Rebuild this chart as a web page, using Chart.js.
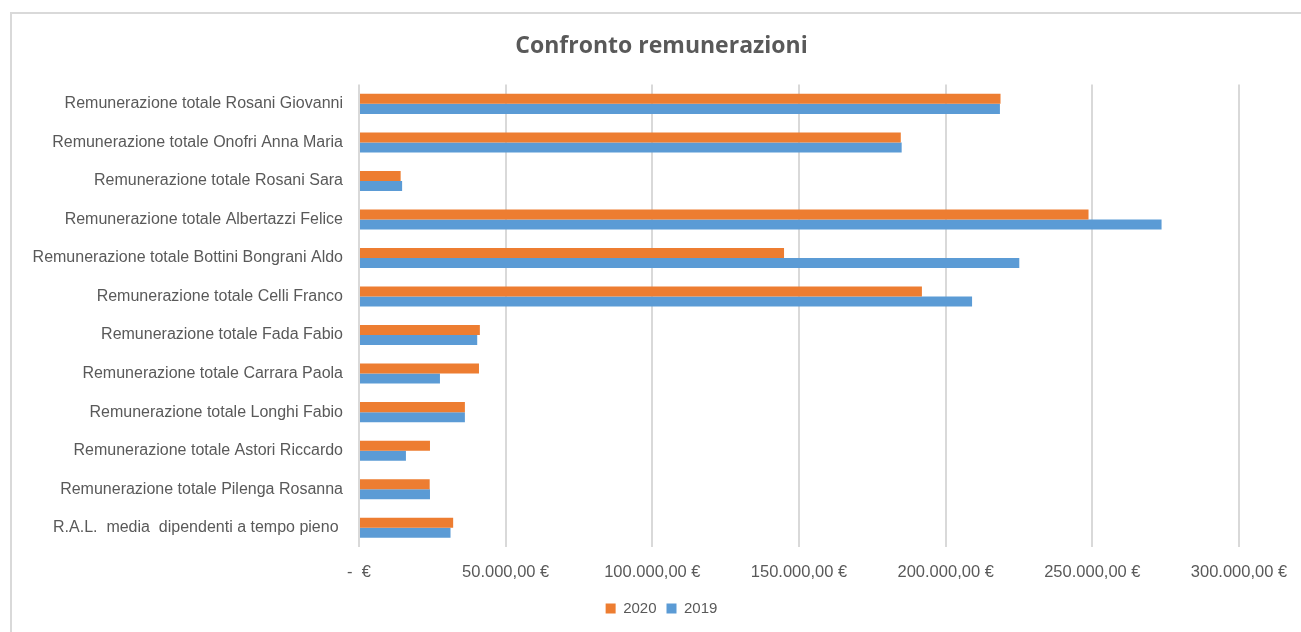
<!DOCTYPE html>
<html>
<head>
<meta charset="utf-8">
<script src="https://cdn.jsdelivr.net/npm/chart.js@4.4.0/dist/chart.umd.min.js"></script>
<style>
    body { margin: 0; background: #fff; }
    #frame { position: absolute; left: 10px; top: 12px; width: 1320px; height: 660px; border: 2px solid #d9d9d9; }
    #chart { position: absolute; left: 0; top: 0; }
</style>
</head>
<body>
<div id="frame"></div>
<canvas id="chart" width="1301" height="632"></canvas>
<script>
// categories, top to bottom
var categories = [
    'Remunerazione totale Rosani Giovanni',
    'Remunerazione totale Onofri Anna Maria',
    'Remunerazione totale Rosani Sara',
    'Remunerazione totale Albertazzi Felice',
    'Remunerazione totale Bottini Bongrani Aldo',
    'Remunerazione totale Celli Franco',
    'Remunerazione totale Fada Fabio',
    'Remunerazione totale Carrara Paola',
    'Remunerazione totale Longhi Fabio',
    'Remunerazione totale Astori Riccardo',
    'Remunerazione totale Pilenga Rosanna',
    'R.A.L.  media  dipendenti a tempo pieno '
];
var values2020 = [218700, 184700, 14200, 248700, 144900, 191900, 41200, 40900, 36100, 24200, 24100, 32100];
var values2019 = [218500, 185000, 14700, 273600, 225100, 209000, 40300, 27600, 36100, 16000, 24200, 31200];
var xTicks = [0, 50000, 100000, 150000, 200000, 250000, 300000];

var textColor = '#595959';
var fontFamily = "'Liberation Sans', Arial, sans-serif";

function euro(v) {
    if (v === 0) return '-  €';
    var s = v.toFixed(2).replace('.', ',');
    var parts = s.split(',');
    parts[0] = parts[0].replace(/\B(?=(\d{3})+(?!\d))/g, '.');
    return parts[0] + ',' + parts[1] + ' €';
}

// title and legend are centred on the frame, not on the plot
var centerShift = {
    id: 'centerShift',
    afterLayout: function (chart) {
        var dx = 42;
        [chart.titleBlock, chart.legend].forEach(function (b) {
            b.left += dx;
            b.right += dx;
        });
    }
};

var ctx = document.getElementById('chart');
var chart = new Chart(ctx, {
    type: 'bar',
    data: {
        labels: categories,
        datasets: [
            { label: '2020', data: values2020, backgroundColor: '#ED7D31' },
            { label: '2019', data: values2019, backgroundColor: '#5B9BD5' }
        ]
    },
    plugins: [centerShift],
    options: {
        indexAxis: 'y',
        responsive: false,
        animation: false,
        layout: { padding: { left: 0, right: 62, top: 0, bottom: 6 } },
        datasets: { bar: { barPercentage: 1, categoryPercentage: 0.52 } },
        plugins: {
            title: {
                display: true,
                text: 'Confronto remunerazioni',
                color: textColor,
                font: { family: "'Open Sans', sans-serif", size: 23, weight: 'bold' },
                padding: { top: 33, bottom: 24 }
            },
            legend: {
                position: 'bottom',
                labels: {
                    color: textColor,
                    font: { family: fontFamily, size: 15 },
                    boxWidth: 10,
                    boxHeight: 10,
                    padding: 10
                }
            },
            tooltip: { enabled: false }
        },
        scales: {
            x: {
                min: 0,
                max: 300000,
                afterBuildTicks: function (scale) {
                    scale.ticks = xTicks.map(function (v) { return { value: v }; });
                },
                afterFit: function (scale) {
                    scale.height = 44;
                    scale.paddingRight = 0;
                },
                grid: { color: '#d9d9d9', lineWidth: 2, drawTicks: false },
                border: { display: false },
                ticks: {
                    color: textColor,
                    font: { family: fontFamily, size: 16.5 },
                    padding: 16,
                    maxRotation: 0,
                    callback: function (v) { return euro(v); }
                }
            },
            y: {
                afterFit: function (scale) { scale.width = 359; },
                grid: { display: false, drawTicks: false },
                border: { display: false },
                ticks: {
                    color: textColor,
                    font: { family: fontFamily, size: 16 },
                    padding: 16,
                    autoSkip: false
                }
            }
        }
    }
});
</script>
</body>
</html>
